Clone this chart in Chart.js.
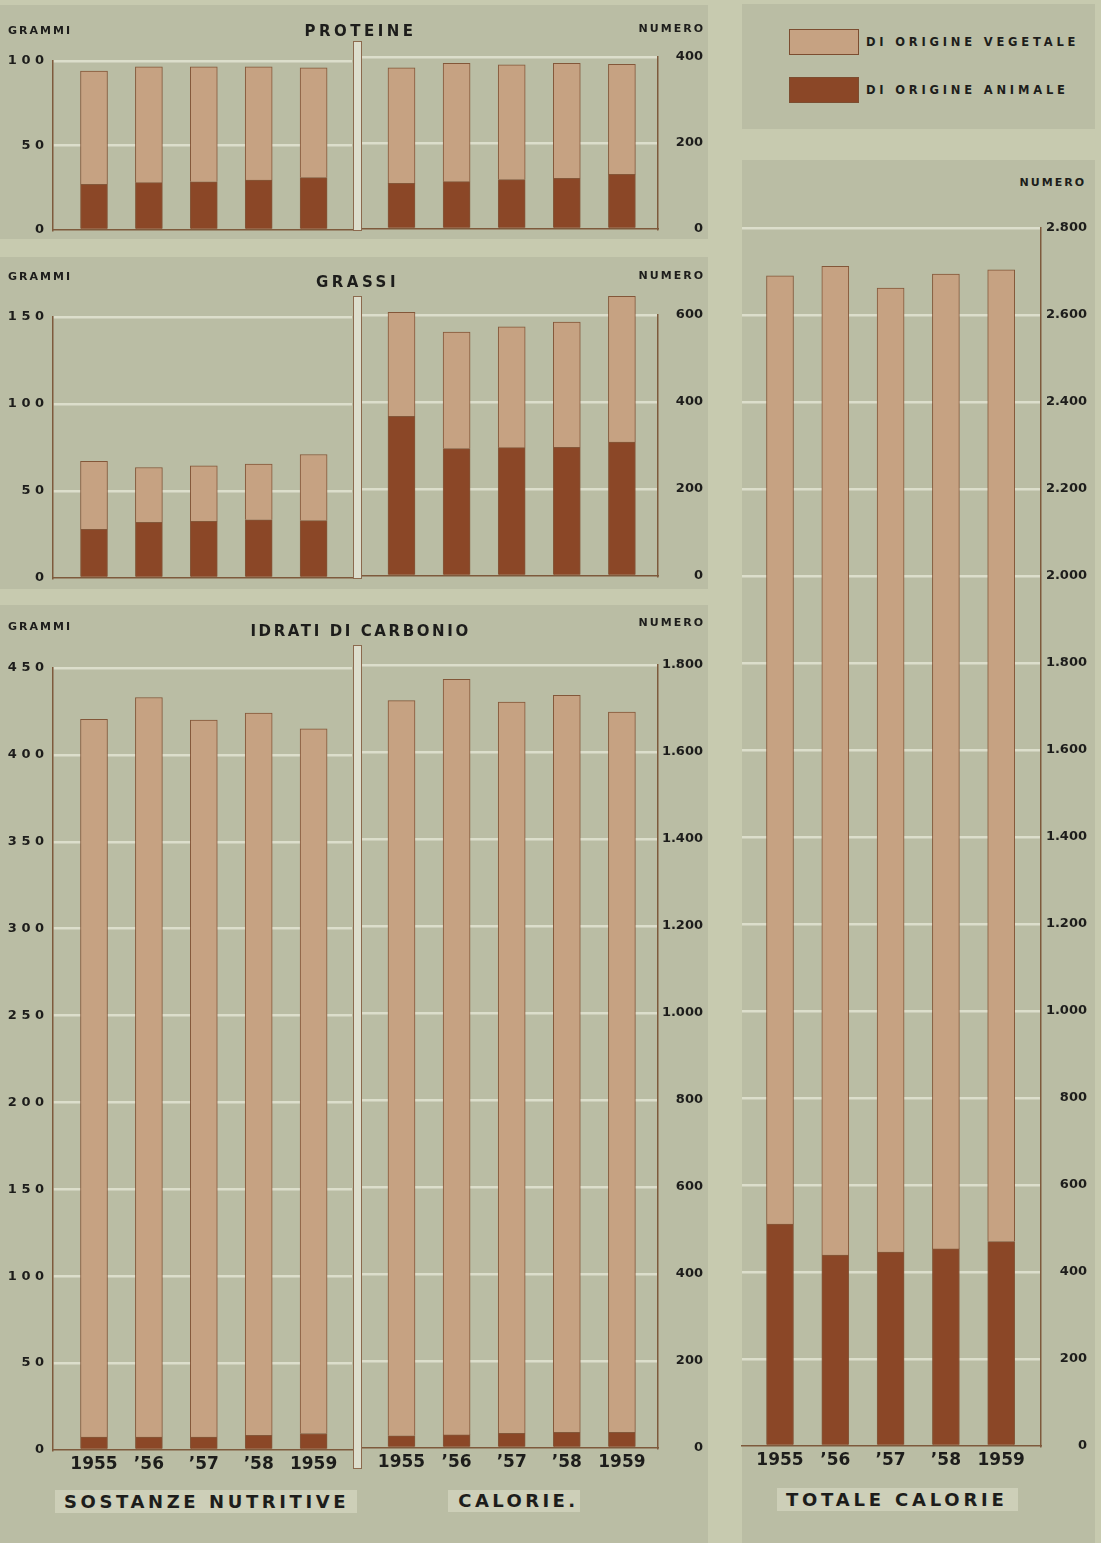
<!DOCTYPE html>
<html>
<head>
<meta charset="utf-8">
<script src="https://cdn.jsdelivr.net/npm/chart.js@4.4.0/dist/chart.umd.min.js"></script>
<style>
  body { margin: 0; background: #c7caaf; }
  #page { position: relative; width: 1101px; height: 1543px; overflow: hidden;
          font-family: "DejaVu Sans", sans-serif; font-weight: bold; color: #1d1d1b; }
  .panel { position: absolute; background: #babda4; }
  .box { position: absolute; background: #cdcfb8; }
  .sep { position: absolute; background: #dddecd; border: 1px solid #8c6a4e; box-sizing: border-box; }
  .t { position: absolute; white-space: nowrap; line-height: 1; }
  .c { text-align: center; width: 400px; }
  .sw { position: absolute; width: 70px; height: 26px; box-sizing: border-box; border: 1px solid #7c4d30; }
  canvas { position: absolute; }
</style>
</head>
<body>
<div id="page">
  <!-- pannelli di fondo -->
  <div class="panel" style="left:0;top:5px;width:708px;height:234px"></div>
  <div class="panel" style="left:0;top:257px;width:708px;height:332px"></div>
  <div class="panel" style="left:0;top:605px;width:708px;height:938px"></div>
  <div class="panel" style="left:742px;top:4px;width:353px;height:125px"></div>
  <div class="panel" style="left:742px;top:160px;width:353px;height:1383px"></div>

  <canvas id="protGr"></canvas>
  <canvas id="protCal"></canvas>
  <canvas id="grassiGr"></canvas>
  <canvas id="grassiCal"></canvas>
  <canvas id="idratiGr"></canvas>
  <canvas id="idratiCal"></canvas>
  <canvas id="totale"></canvas>

  <div class="sep" style="left:353px;top:41px;width:9px;height:190px"></div>
  <div class="sep" style="left:353px;top:296px;width:9px;height:283px"></div>
  <div class="sep" style="left:353px;top:645px;width:9px;height:824px"></div>

  <!-- titoli -->
  <div class="t c" style="left:157px;top:24px;font-size:15px;letter-spacing:3.5px;padding-left:3.5px">PROTEINE</div>
  <div class="t c" style="left:154px;top:275px;font-size:15px;letter-spacing:3.5px;padding-left:3.5px">GRASSI</div>
  <div class="t c" style="left:158px;top:624px;font-size:15px;letter-spacing:2.6px;padding-left:2.6px">IDRATI DI CARBONIO</div>

  <div class="t" style="left:8px;top:25px;font-size:11px;letter-spacing:2px">GRAMMI</div>
  <div class="t" style="left:8px;top:271px;font-size:11px;letter-spacing:2px">GRAMMI</div>
  <div class="t" style="left:8px;top:621px;font-size:11px;letter-spacing:2px">GRAMMI</div>
  <div class="t" style="right:396px;top:23px;font-size:11px;letter-spacing:2px">NUMERO</div>
  <div class="t" style="right:396px;top:270px;font-size:11px;letter-spacing:2px">NUMERO</div>
  <div class="t" style="right:396px;top:617px;font-size:11px;letter-spacing:2px">NUMERO</div>
  <div class="t" style="right:15px;top:177px;font-size:11px;letter-spacing:2px">NUMERO</div>

  <!-- etichette in basso -->
  <div class="box" style="left:55px;top:1490px;width:302px;height:23px"></div>
  <div class="box" style="left:448px;top:1490px;width:132px;height:22px"></div>
  <div class="box" style="left:777px;top:1488px;width:241px;height:23px"></div>
  <div class="t c" style="left:3px;top:1493px;font-size:18px;letter-spacing:3.6px;padding-left:3.6px">SOSTANZE NUTRITIVE</div>
  <div class="t c" style="left:315px;top:1492px;font-size:18px;letter-spacing:3.4px;padding-left:3.4px">CALORIE.</div>
  <div class="t c" style="left:693px;top:1491px;font-size:18px;letter-spacing:3.8px;padding-left:3.8px">TOTALE CALORIE</div>

  <div id="legenda"></div>
</div>

<script>
// === DATI ===
const anni = ['1955', '\u201956', '\u201957', '\u201958', '1959'];
const serie = ['DI ORIGINE VEGETALE', 'DI ORIGINE ANIMALE'];

// proteine
const protGrAnimale  = [27, 28, 28.5, 29.5, 31];
const protGrVegetale = [67, 68.5, 68, 67, 65];
const protCalAnimale  = [106, 110, 115, 118, 127];
const protCalVegetale = [269, 275, 267, 267, 256];
// grassi
const grassiGrAnimale  = [28, 32, 32.5, 33.5, 33];
const grassiGrVegetale = [39, 31.5, 32, 32, 38];
const grassiCalAnimale  = [367, 293, 295, 296, 308];
const grassiCalVegetale = [239, 268, 278, 288, 335];
// idrati di carbonio
const idratiGrAnimale  = [7.5, 7.5, 7.5, 8.5, 9.5];
const idratiGrVegetale = [413, 425.5, 412.5, 415.5, 405.5];
const idratiCalAnimale  = [28, 30, 34, 36, 36];
const idratiCalVegetale = [1690, 1737, 1681, 1694, 1656];
// totale calorie
const totAnimale  = [510, 439, 446, 453, 470];
const totVegetale = [2180, 2273, 2216, 2241, 2234];

// tacche degli assi
const tickProtGr = [0, 50, 100];
const tickProtCal = [0, 200, 400];
const tickGrassiGr = [0, 50, 100, 150];
const tickGrassiCal = [0, 200, 400, 600];
const tickIdratiGr = [0, 50, 100, 150, 200, 250, 300, 350, 400, 450];
const tickIdratiCal = [0, 200, 400, 600, 800, 1000, 1200, 1400, 1600, 1800];
const tickTot = [0, 200, 400, 600, 800, 1000, 1200, 1400, 1600, 1800, 2000, 2200, 2400, 2600, 2800];

// === STILE ===
const CHIARO = '#c6a282';
const SCURO = '#8b4727';
const BORDO = 'rgba(125,75,45,0.9)';
const ASSE = '#7e5a3c';
const GRIGLIA = '#dcdecb';
const TESTO = '#1d1d1b';
const FONT = '"DejaVu Sans", sans-serif';

// legenda
const leg = document.getElementById('legenda');
[[CHIARO, serie[0], 29], [SCURO, serie[1], 77]].forEach(([col, txt, y]) => {
  leg.insertAdjacentHTML('beforeend',
    `<div class="sw" style="left:789px;top:${y}px;background:${col}"></div>` +
    `<div class="t" style="left:866px;top:${y + 8}px;font-size:11.5px;letter-spacing:3.8px">${txt}</div>`);
});

function numero(v) {
  return v >= 1000 ? Math.floor(v / 1000) + '.' + String(v % 1000).padStart(3, '0') : String(v);
}

function creaGrafico(id, g) {
  const cnv = document.getElementById(id);
  const pt = 26, pb = 4;
  const xH = g.anni ? 30 : 0;
  const sinistra = g.side === 'left';
  cnv.width = g.cr - g.cl;
  cnv.height = g.b - g.t + pt + pb + xH;
  cnv.style.left = g.cl + 'px';
  cnv.style.top = (g.t - pt) + 'px';
  const yW = sinistra ? g.l - g.cl : g.edge - g.r;
  const pad = sinistra
    ? { left: 0, right: g.cr - g.r, top: pt, bottom: pb }
    : { left: g.l - g.cl, right: g.cr - g.edge, top: pt, bottom: pb };
  const fit = size => s => {
    if (s.isHorizontal()) s.height = size; else s.width = size;
    s.paddingTop = s.paddingBottom = s.paddingLeft = s.paddingRight = 0;
  };
  const ds = (label, vals, col) => ({
    label: label,
    data: vals.map((v, i) => ({ x: i, y: v })),
    backgroundColor: col,
    borderColor: BORDO,
    borderWidth: 1,
    barThickness: 27,
    clip: false
  });

  new Chart(cnv, {
    type: 'bar',
    data: {
      datasets: [ds(serie[1], g.animale, SCURO), ds(serie[0], g.vegetale, CHIARO)]
    },
    options: {
      responsive: false,
      animation: false,
      events: [],
      layout: { padding: pad },
      plugins: { legend: { display: false }, tooltip: { enabled: false } },
      scales: {
        x: {
          type: 'linear',
          stacked: true,
          offset: false,
          min: (g.l - g.c0) / g.dx,
          max: (g.r - g.c0) / g.dx,
          afterBuildTicks: s => { s.ticks = anni.map((_, i) => ({ value: i })); },
          grid: { display: false, drawTicks: false, offset: false },
          border: { display: true, color: ASSE, width: 1.5 },
          ticks: {
            display: !!g.anni, padding: 4, autoSkip: false, maxRotation: 0,
            color: TESTO, font: { family: FONT, size: 17, weight: 'bold' },
            callback: v => anni[v]
          },
          afterFit: fit(xH)
        },
        y: {
          position: g.side,
          stacked: true,
          min: 0,
          max: g.ticks[g.ticks.length - 1],
          afterBuildTicks: s => { s.ticks = g.ticks.map(v => ({ value: v })); },
          grid: {
            drawTicks: false,
            lineWidth: 2.5,
            color: c => (c.tick && c.tick.value === 0) ? 'rgba(0,0,0,0)' : GRIGLIA
          },
          border: { display: true, color: ASSE, width: 1.5 },
          ticks: {
            padding: sinistra ? 9 : 0,
            crossAlign: sinistra ? 'near' : 'far',
            color: TESTO,
            font: { family: FONT, size: 13, weight: 'bold' },
            callback: sinistra ? v => String(v).split('').join(' ') : numero
          },
          afterFit: fit(yW)
        }
      }
    }
  });
}

const SX = { side: 'left', cl: 0, cr: 354, l: 53, r: 352, c0: 94, dx: 54.9 };
const DX = { side: 'right', cl: 356, cr: 710, l: 362, r: 658, edge: 703, c0: 401.5, dx: 55.1 };

creaGrafico('protGr', { ...SX, t: 61, b: 230, ticks: tickProtGr, animale: protGrAnimale, vegetale: protGrVegetale });
creaGrafico('protCal', { ...DX, t: 57, b: 229, ticks: tickProtCal, animale: protCalAnimale, vegetale: protCalVegetale });
creaGrafico('grassiGr', { ...SX, t: 317, b: 578, ticks: tickGrassiGr, animale: grassiGrAnimale, vegetale: grassiGrVegetale });
creaGrafico('grassiCal', { ...DX, t: 315, b: 576, ticks: tickGrassiCal, animale: grassiCalAnimale, vegetale: grassiCalVegetale });
creaGrafico('idratiGr', { ...SX, t: 668, b: 1450, anni: true, ticks: tickIdratiGr, animale: idratiGrAnimale, vegetale: idratiGrVegetale });
creaGrafico('idratiCal', { ...DX, t: 665, b: 1448, anni: true, ticks: tickIdratiCal, animale: idratiCalAnimale, vegetale: idratiCalVegetale });
creaGrafico('totale', { side: 'right', cl: 740, cr: 1095, l: 742, r: 1041, edge: 1087, c0: 780, dx: 55.3,
  t: 228, b: 1446, anni: true, ticks: tickTot, animale: totAnimale, vegetale: totVegetale });
</script>
</body>
</html>
